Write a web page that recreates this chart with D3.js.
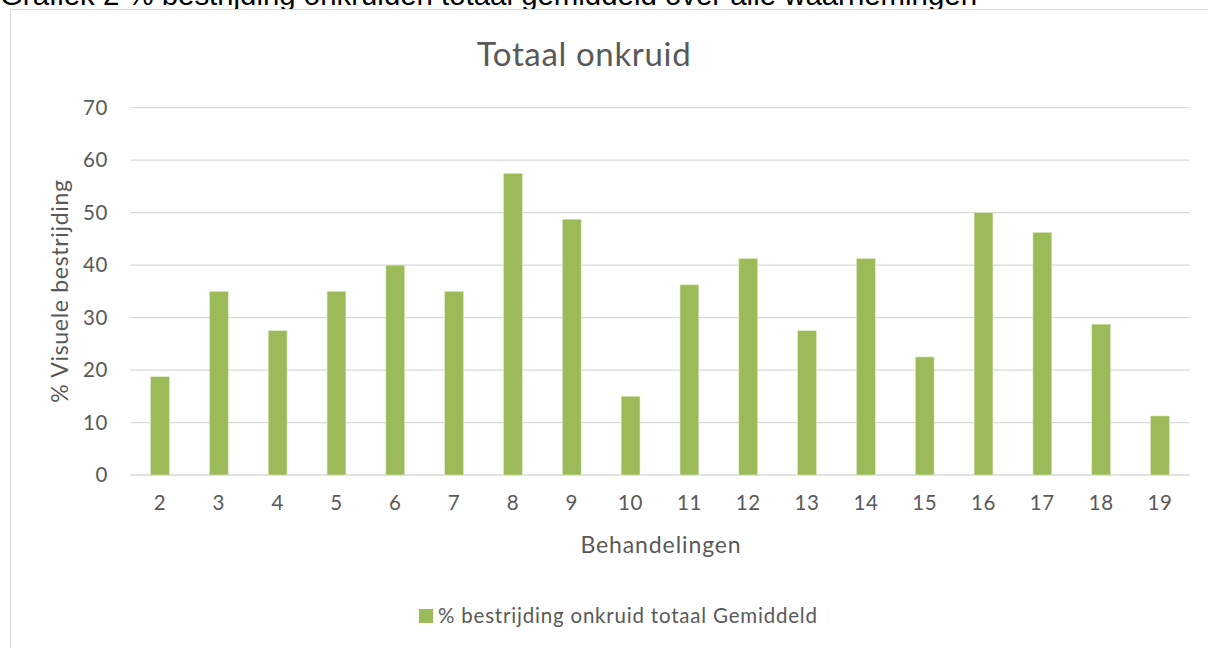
<!DOCTYPE html>
<html>
<head>
<meta charset="utf-8">
<script src="https://cdn.jsdelivr.net/npm/d3@7"></script>
<style>
  html, body { margin: 0; padding: 0; background: #ffffff; }
  svg { display: block; }
</style>
</head>
<body>
<svg id="svgcanvas" width="1208" height="648"></svg>
<script>

// categories (Behandelingen) and mean control values
var behandelingen = ["2", "3", "4", "5", "6", "7", "8", "9", "10", "11",
                     "12", "13", "14", "15", "16", "17", "18", "19"];
var gemiddeld = [18.75, 35, 27.5, 35, 40, 35, 57.5, 48.75, 15, 36.25,
                 41.25, 27.5, 41.25, 22.5, 50, 46.25, 28.75, 11.25];
var yTicks = [0, 10, 20, 30, 40, 50, 60, 70];

var pageCaption = "Grafiek 2 % bestrijding onkruiden totaal gemiddeld over alle waarnemingen";
var chartTitle = "Totaal onkruid";
var yTitle = "% Visuele bestrijding";
var xTitle = "Behandelingen";
var legendLabel = "% bestrijding onkruid totaal Gemiddeld";

var svg = d3.select("#svgcanvas");
var font = "Lato, 'Open Sans', sans-serif";
var textGrey = "#595959";
var barGreen = "#9bbb59";

// plot area
var plot = { left: 130.6, right: 1189.4, top: 107.7, bottom: 475 };

var x = d3.scaleBand()
    .domain(behandelingen)
    .range([plot.left, plot.right])
    .paddingInner(0.68)
    .paddingOuter(0.34);

var y = d3.scaleLinear()
    .domain([0, 70])
    .range([plot.bottom, plot.top]);

// caption above the chart box (cut off by the page top, as in the source)
svg.append("text")
    .attr("x", 0)
    .attr("y", 4.5)
    .attr("font-family", "'Liberation Sans', Arial, sans-serif")
    .attr("font-size", 29.4)
    .attr("fill", "#000000")
    .text(pageCaption);

// chart box border
svg.append("rect")
    .attr("x", 10.5)
    .attr("y", 9.5)
    .attr("width", 1300)
    .attr("height", 700)
    .attr("fill", "#ffffff")
    .attr("stroke", "#d9d9d9")
    .attr("stroke-width", 1);

// gridlines
svg.append("g")
    .attr("id", "g_grid")
    .selectAll("line")
    .data(yTicks)
    .enter()
    .append("line")
    .attr("x1", plot.left)
    .attr("x2", plot.right)
    .attr("y1", function(d) { return y(d); })
    .attr("y2", function(d) { return y(d); })
    .attr("stroke", "#d9d9d9")
    .attr("stroke-width", 1.3);

// y axis labels
var yAxis = d3.axisLeft(y).tickValues(yTicks).tickSize(0).tickPadding(0);
var gy = svg.append("g")
    .attr("transform", "translate(108,0)")
    .call(yAxis);
gy.select(".domain").remove();
gy.selectAll("text")
    .attr("font-family", font)
    .attr("font-size", 20.5)
    .attr("letter-spacing", 0.6)
    .attr("fill", textGrey);

// bars
svg.append("g")
    .attr("id", "g_rects")
    .selectAll("rect")
    .data(gemiddeld)
    .enter()
    .append("rect")
    .attr("x", function(d, i) { return x(behandelingen[i]); })
    .attr("y", function(d) { return y(d); })
    .attr("width", x.bandwidth())
    .attr("height", function(d) { return y(0) - y(d); })
    .attr("fill", barGreen)
    .attr("stroke", "#dfe9c8")
    .attr("stroke-width", 0.6);

// x axis labels
var xAxis = d3.axisBottom(x).tickSize(0).tickPadding(0);
var gx = svg.append("g")
    .attr("transform", "translate(0,495)")
    .call(xAxis);
gx.select(".domain").remove();
gx.selectAll("text")
    .attr("font-family", font)
    .attr("font-size", 20.5)
    .attr("letter-spacing", 0.6)
    .attr("fill", textGrey);

// chart title
svg.append("text")
    .attr("x", 584)
    .attr("y", 66)
    .attr("text-anchor", "middle")
    .attr("font-family", font)
    .attr("font-size", 33)
    .attr("letter-spacing", 0.65)
    .attr("fill", textGrey)
    .text(chartTitle);

// axis titles
svg.append("text")
    .attr("transform", "translate(68,291) rotate(-90)")
    .attr("text-anchor", "middle")
    .attr("font-family", font)
    .attr("font-size", 23)
    .attr("letter-spacing", 0.7)
    .attr("fill", textGrey)
    .text(yTitle);

svg.append("text")
    .attr("x", 661)
    .attr("y", 553)
    .attr("text-anchor", "middle")
    .attr("font-family", font)
    .attr("font-size", 23)
    .attr("letter-spacing", 0.9)
    .attr("fill", textGrey)
    .text(xTitle);

// legend
var legend = svg.append("g").attr("transform", "translate(419,609)");
legend.append("rect")
    .attr("width", 14)
    .attr("height", 14)
    .attr("fill", barGreen);
legend.append("text")
    .attr("x", 19)
    .attr("y", 14)
    .attr("font-family", font)
    .attr("font-size", 20.5)
    .attr("letter-spacing", 0.8)
    .attr("fill", textGrey)
    .text(legendLabel);

</script>
</body>
</html>
